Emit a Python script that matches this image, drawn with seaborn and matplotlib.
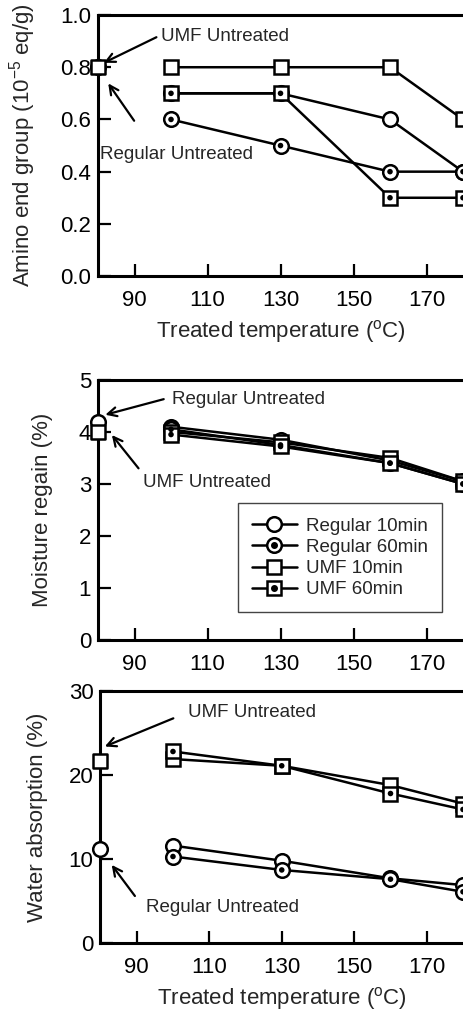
import pandas as pd
import seaborn as sns
import matplotlib
matplotlib.use("Agg")
import matplotlib.pyplot as plt
from matplotlib.lines import Line2D
from matplotlib.legend_handler import HandlerTuple

# Data
temps = [100, 130, 160, 180]
series_names = ["Regular 10min", "Regular 60min", "UMF 10min", "UMF 60min"]

amino_reg10 = [0.7, 0.7, 0.6, 0.4]
amino_reg60 = [0.6, 0.5, 0.4, 0.4]
amino_umf10 = [0.8, 0.8, 0.8, 0.6]
amino_umf60 = [0.7, 0.7, 0.3, 0.3]
amino_untreated = {"Regular": 0.8, "UMF": 0.8}

moist_reg10 = [4.1, 3.85, 3.45, 3.05]
moist_reg60 = [4.05, 3.75, 3.4, 3.0]
moist_umf10 = [4.0, 3.8, 3.5, 3.05]
moist_umf60 = [3.95, 3.72, 3.4, 3.0]
moist_untreated = {"Regular": 4.2, "UMF": 4.0}

water_reg10 = [11.6, 9.8, 7.7, 6.9]
water_reg60 = [10.3, 8.7, 7.6, 6.1]
water_umf10 = [21.9, 21.1, 18.8, 16.6]
water_umf60 = [22.8, 21.1, 17.8, 15.9]
water_untreated = {"Regular": 11.2, "UMF": 21.7}

untreated_temp = 80

sns.set_theme(style="ticks")
plt.rcParams["font.family"] = ["Liberation Sans", "DejaVu Sans"]
plt.rcParams["mathtext.fontset"] = "custom"
plt.rcParams["mathtext.rm"] = "Liberation Sans"
plt.rcParams["mathtext.it"] = "Liberation Sans:italic"

markers = {"Regular 10min": "o", "Regular 60min": "o", "UMF 10min": "s", "UMF 60min": "s"}
MS = 10.5
LW = 1.8
FS = 16


def long_df(vals):
    rows = []
    for name, v in zip(series_names, vals):
        for t, y in zip(temps, v):
            rows.append({"temp": t, "value": y, "series": name})
    return pd.DataFrame(rows)


def draw_panel(ax, vals, untreated):
    df = long_df(vals)
    sns.lineplot(data=df, x="temp", y="value", style="series", style_order=series_names,
                 markers=markers, dashes=False, color="black", linewidth=LW,
                 markersize=MS, markerfacecolor="white", markeredgecolor="black",
                 markeredgewidth=LW, legend=False, clip_on=False, ax=ax)
    dots = df[df["series"].str.contains("60min")]
    sns.scatterplot(data=dots, x="temp", y="value", color="black", s=16,
                    edgecolor="none", zorder=5, clip_on=False, ax=ax)
    # untreated samples
    sns.scatterplot(x=[untreated_temp], y=[untreated["Regular"]], marker="o", s=MS ** 2,
                    facecolor="white", edgecolor="black", linewidth=LW,
                    zorder=6, clip_on=False, ax=ax)
    sns.scatterplot(x=[untreated_temp], y=[untreated["UMF"]], marker="s", s=MS ** 2,
                    facecolor="white", edgecolor="black", linewidth=LW,
                    zorder=7, clip_on=False, ax=ax)
    ax.set_xlim(80, 180)
    ax.set_xticks([90, 110, 130, 150, 170])
    ax.set_xlabel("")
    ax.set_ylabel("")
    ax.spines["right"].set_visible(False)
    for s in ["left", "top", "bottom"]:
        ax.spines[s].set_linewidth(2.2)
        ax.spines[s].set_color("black")
    ax.tick_params(axis="both", direction="in", length=9, width=1.6, labelsize=FS,
                   colors="black")
    ax.tick_params(axis="x", pad=10)
    ax.tick_params(axis="y", pad=5)


def note(ax, text, txy, tail, head):
    ax.text(txy[0], txy[1], text, fontsize=13.5, ha="left", va="center", zorder=10)
    ax.annotate("", xy=head, xytext=tail,
                arrowprops=dict(arrowstyle="->", lw=1.6, color="black",
                                shrinkA=0, shrinkB=0, mutation_scale=16),
                annotation_clip=False, zorder=10)


fig = plt.figure(figsize=(4.63, 10.15), dpi=100)
ax1 = fig.add_axes([0.2117, 0.728, 0.7883, 0.2572])
ax2 = fig.add_axes([0.2117, 0.3695, 0.7883, 0.2562])
ax3 = fig.add_axes([0.2170, 0.0709, 0.7830, 0.2483])

xlabel = "Treated temperature ($^{\\mathrm{o}}$C)"

# Amino end group
draw_panel(ax1, [amino_reg10, amino_reg60, amino_umf10, amino_umf60], amino_untreated)
ax1.set_ylim(0, 1.0)
ax1.set_yticks([0.0, 0.2, 0.4, 0.6, 0.8, 1.0])
ax1.set_yticklabels(["0.0", "0.2", "0.4", "0.6", "0.8", "1.0"])
ax1.set_ylabel("Amino end group (10$^{-5}$ eq/g)", fontsize=FS)
ax1.yaxis.set_label_coords(-0.164, 0.5)
ax1.set_xlabel(xlabel, fontsize=FS, labelpad=5)
note(ax1, "UMF Untreated", (97.3, 0.917), (96.0, 0.915), (81.6, 0.817))
note(ax1, "Regular Untreated", (80.6, 0.467), (89.9, 0.595), (82.8, 0.738))

# Moisture regain
draw_panel(ax2, [moist_reg10, moist_reg60, moist_umf10, moist_umf60], moist_untreated)
ax2.set_ylim(0, 5)
ax2.set_yticks([0, 1, 2, 3, 4, 5])
ax2.set_ylabel("Moisture regain (%)", fontsize=FS)
ax2.yaxis.set_label_coords(-0.123, 0.5)
note(ax2, "Regular Untreated", (100.3, 4.615), (98.0, 4.63), (82.0, 4.33))
note(ax2, "UMF Untreated", (92.3, 3.03), (91.1, 3.30), (83.8, 3.94))

handles = []
for name in series_names:
    base = Line2D([], [], color="black", lw=LW, marker=markers[name], markersize=MS,
                  markerfacecolor="white", markeredgecolor="black", markeredgewidth=LW)
    if "60min" in name:
        dot = Line2D([], [], color="black", lw=0, marker="o", markersize=4)
        handles.append((base, dot))
    else:
        handles.append(base)
leg = ax2.legend(handles, series_names, loc="upper left", bbox_to_anchor=(0.383, 0.525),
                 fontsize=13.5, handlelength=2.4, handletextpad=0.5, labelspacing=0.22,
                 borderpad=0.75, borderaxespad=0, fancybox=False, framealpha=1,
                 handler_map={tuple: HandlerTuple(ndivide=1)})
leg.get_frame().set_edgecolor("#444444")
leg.get_frame().set_linewidth(1)

# Water absorption
draw_panel(ax3, [water_reg10, water_reg60, water_umf10, water_umf60], water_untreated)
ax3.set_ylim(0, 30)
ax3.set_yticks([0, 10, 20, 30])
ax3.set_ylabel("Water absorption (%)", fontsize=FS)
ax3.yaxis.set_label_coords(-0.146, 0.5)
ax3.set_xlabel(xlabel, fontsize=FS, labelpad=5)
note(ax3, "UMF Untreated", (104.1, 27.5), (100.1, 26.75), (81.2, 23.4))
note(ax3, "Regular Untreated", (92.5, 4.2), (89.5, 5.6), (83.1, 9.3))

fig.savefig("out.png", dpi=100)
